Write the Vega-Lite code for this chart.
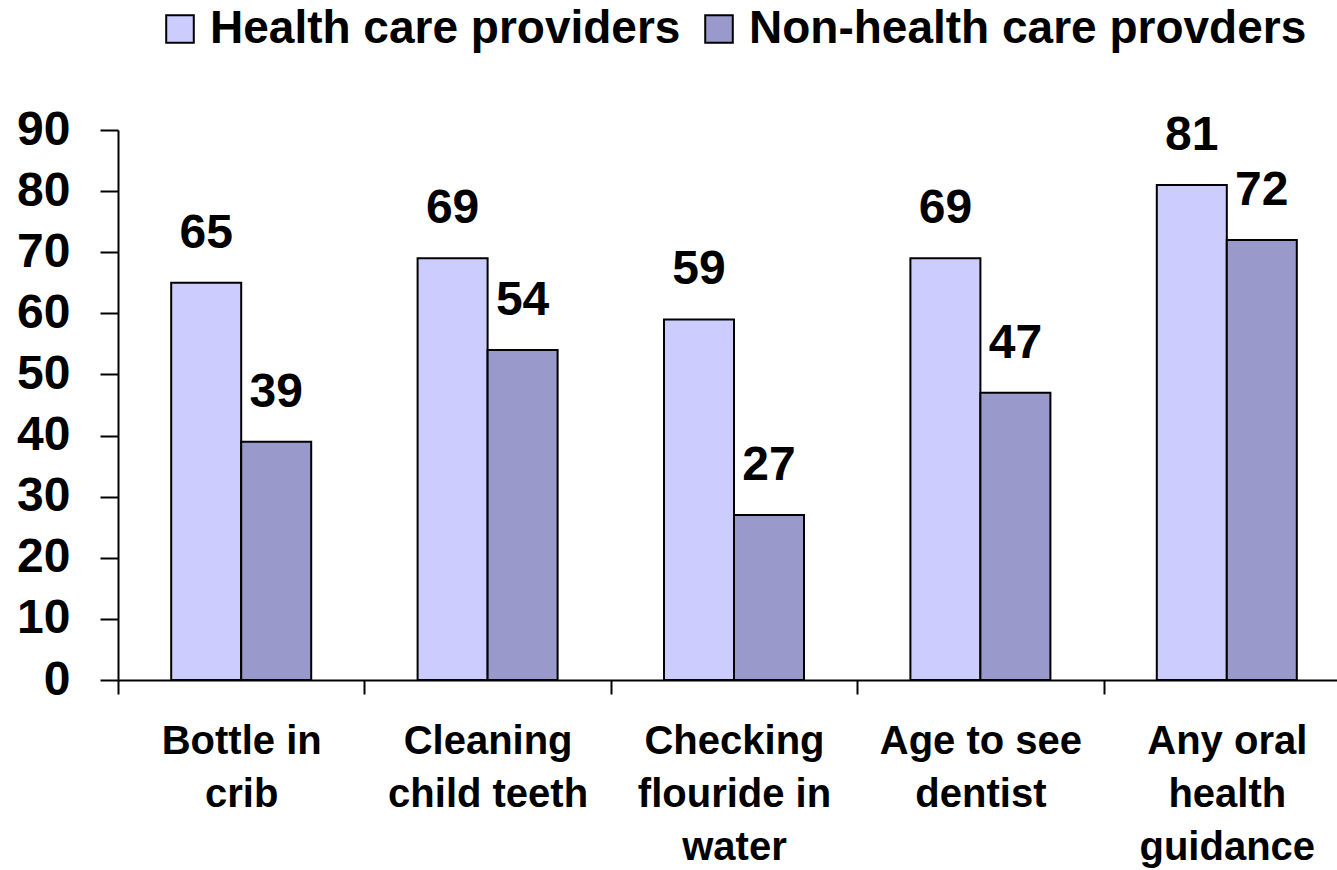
{
  "$schema": "https://vega.github.io/schema/vega-lite/v6.json",
  "width": 1219,
  "height": 550,
  "autosize": "none",
  "padding": {"left": 118, "top": 130, "right": 0, "bottom": 190},
  "background": "white",
  "config": {"view": {"stroke": null}, "font": "Liberation Sans"},
  "data": {
    "values": [
      {"cat": "Bottle in crib", "grp": "Health care providers", "v": 65},
      {"cat": "Bottle in crib", "grp": "Non-health care provders", "v": 39},
      {"cat": "Cleaning child teeth", "grp": "Health care providers", "v": 69},
      {"cat": "Cleaning child teeth", "grp": "Non-health care provders", "v": 54},
      {"cat": "Checking flouride in water", "grp": "Health care providers", "v": 59},
      {"cat": "Checking flouride in water", "grp": "Non-health care provders", "v": 27},
      {"cat": "Age to see dentist", "grp": "Health care providers", "v": 69},
      {"cat": "Age to see dentist", "grp": "Non-health care provders", "v": 47},
      {"cat": "Any oral health guidance", "grp": "Health care providers", "v": 81},
      {"cat": "Any oral health guidance", "grp": "Non-health care provders", "v": 72}
    ]
  },
  "encoding": {
    "x": {
      "field": "cat",
      "type": "nominal",
      "sort": ["Bottle in crib", "Cleaning child teeth", "Checking flouride in water", "Age to see dentist", "Any oral health guidance"],
      "scale": {"paddingInner": 0, "paddingOuter": 0, "range": [0, 1232]},
      "axis": {
        "title": null,
        "labelAngle": 0,
        "labelFont": "Liberation Sans",
        "labelFontSize": 40,
        "labelFontWeight": "bold",
        "labelColor": "black",
        "labelLineHeight": 53,
        "labelBaseline": "alphabetic",
        "labelPadding": 59,
        "labelExpr": "datum.label == 'Bottle in crib' ? ['Bottle in', 'crib'] : datum.label == 'Cleaning child teeth' ? ['Cleaning', 'child teeth'] : datum.label == 'Checking flouride in water' ? ['Checking', 'flouride in', 'water'] : datum.label == 'Age to see dentist' ? ['Age to see', 'dentist'] : datum.label == 'Any oral health guidance' ? ['Any oral', 'health', 'guidance'] : ''",
        "tickBand": "extent",
        "tickSize": 14,
        "tickWidth": 2,
        "tickColor": "black",
        "domainColor": "black",
        "domainWidth": 2,
        "labelOverlap": false,
        "labelBound": false,
        "labelLimit": 400
      }
    },
    "xOffset": {
      "field": "grp",
      "type": "nominal",
      "sort": ["Health care providers", "Non-health care provders"],
      "scale": {"paddingInner": 0, "paddingOuter": 0.76}
    },
    "y": {
      "field": "v",
      "type": "quantitative",
      "scale": {"domain": [0, 90]},
      "axis": {
        "title": null,
        "values": [0, 10, 20, 30, 40, 50, 60, 70, 80, 90],
        "grid": false,
        "labelFont": "Liberation Sans",
        "labelFontSize": 48,
        "labelFontWeight": "bold",
        "labelColor": "black",
        "labelPadding": 30,
        "tickSize": 18,
        "tickWidth": 2,
        "tickColor": "black",
        "domainColor": "black",
        "domainWidth": 2
      }
    }
  },
  "layer": [
    {
      "mark": {"type": "bar", "stroke": "black", "strokeWidth": 2},
      "encoding": {
        "color": {
          "field": "grp",
          "type": "nominal",
          "scale": {"domain": ["Health care providers", "Non-health care provders"], "range": ["#CCCCFF", "#9999CC"]},
          "legend": {
            "title": null,
            "orient": "none",
            "legendX": 39,
            "legendY": -124,
            "direction": "horizontal",
            "symbolType": "square",
            "symbolSize": 760,
            "symbolStrokeColor": "black",
            "symbolStrokeWidth": 2,
            "symbolOpacity": 1,
            "labelFont": "Liberation Sans",
            "labelFontSize": 46,
            "labelFontWeight": "bold",
            "labelColor": "black",
            "labelOffset": 7,
            "labelLimit": 800,
            "columnPadding": 15
          }
        }
      }
    },
    {
      "mark": {"type": "text", "baseline": "alphabetic", "dy": -35, "fontSize": 48, "fontWeight": "bold", "font": "Liberation Sans", "color": "black"},
      "encoding": {"text": {"field": "v", "type": "quantitative"}}
    }
  ]
}
